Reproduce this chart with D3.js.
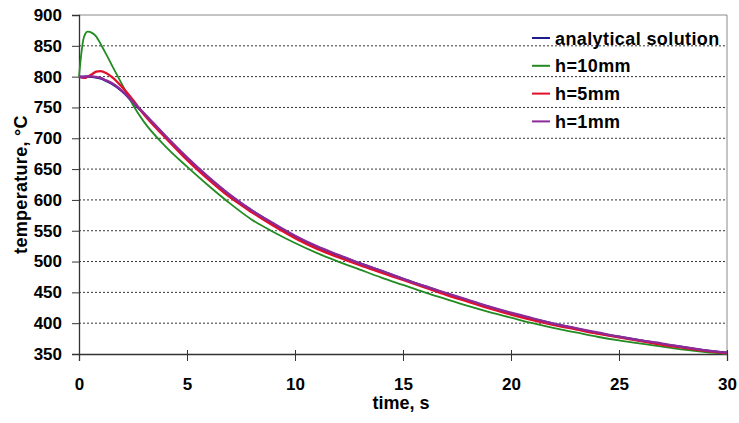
<!DOCTYPE html>
<html>
<head>
<meta charset="utf-8">
<script src="https://cdn.jsdelivr.net/npm/d3@7"></script>
<style>
  body { margin: 0; background: #fff; }
  svg { display: block; font-family: "Liberation Sans", Arial, sans-serif; }
</style>
</head>
<body>
<svg width="739" height="423"></svg>
<script>
// time points (s)
const times = [0, 0.1, 0.2, 0.3, 0.4, 0.6, 0.8, 1, 1.25, 1.5, 2, 2.5, 3,
  4, 5, 6, 7, 8, 9, 10, 11, 12, 13, 14, 15, 16, 17, 18, 19, 20,
  21, 22, 23, 24, 25, 26, 27, 28, 29, 30]

const analytical = [800, 800, 800, 800, 800, 799.5, 798.5, 797, 793, 789, 776, 758, 740,
  703, 668, 636, 607, 583, 561, 541, 524, 510, 497, 485, 472, 460, 448, 437, 426, 416,
  407, 399, 391, 384, 378, 372, 366, 361, 356, 352]

const h10 = [800, 835, 860, 870, 873, 871, 865, 853, 837, 820, 787, 754, 727,
  687, 654, 623, 594, 568, 548, 530, 514, 500, 487, 474, 462, 450, 439, 428, 418, 409,
  400, 392, 385, 378, 372, 367, 362, 357, 353, 350]

const h5 = [800, 799, 798, 798, 800, 804, 808, 809, 806, 800, 783, 762, 739,
  701, 665, 633, 604, 580, 558, 538, 521, 507, 494, 482, 470, 458, 446, 435, 424, 414,
  405, 397, 390, 383, 377, 371, 365, 360, 355, 351]

const h1 = [800, 799, 799, 800, 800.5, 800.5, 799.5, 798, 794, 790, 777, 759, 741,
  704, 669, 637, 608, 583, 562, 542, 525, 511, 497, 485, 472, 460, 449, 438, 427, 417,
  408, 399, 392, 385, 378, 372, 367, 361, 356, 352]

const seriesNames = ['analytical solution', 'h=10mm', 'h=5mm', 'h=1mm']
const seriesColors = ['#1c1c8c', '#228b22', '#e0102a', '#8e2a98']
const seriesValues = [analytical, h10, h5, h1]

const xTicks = [0, 5, 10, 15, 20, 25, 30]
const yTicks = [350, 400, 450, 500, 550, 600, 650, 700, 750, 800, 850, 900]

const svg = d3.select('svg')
const mLeft = 79, mRight = 727, mTop = 15, mBottom = 354

const x = d3.scaleLinear().domain([0, 30]).range([mLeft, mRight])
const y = d3.scaleLinear().domain([350, 900]).range([mBottom, mTop])

// dotted gridlines
svg.append('g').selectAll('line')
  .data(yTicks.slice(1, -1))
  .enter().append('line')
  .attr('x1', mLeft).attr('x2', mRight)
  .attr('y1', d => y(d)).attr('y2', d => y(d))
  .attr('stroke', '#333')
  .attr('stroke-width', 1)
  .attr('stroke-dasharray', '2,2')

// plot border, top and right
svg.append('path')
  .attr('d', `M${mLeft},${mTop}H${mRight}V${mBottom}`)
  .attr('fill', 'none')
  .attr('stroke', '#8a8a8a')
  .attr('stroke-width', 1)

const yAxis = d3.axisLeft(y).tickValues(yTicks).tickSize(7).tickPadding(10)
const yAxisGroup = svg.append('g')
  .attr('transform', `translate(${mLeft},0)`)
  .call(yAxis)

const xAxis = d3.axisBottom(x).tickValues(xTicks).tickSize(7).tickPadding(17)
const xAxisGroup = svg.append('g')
  .attr('transform', `translate(0,${mBottom})`)
  .call(xAxis)

xAxisGroup.selectAll('.tick line').attr('y1', -4)

svg.selectAll('.domain').attr('stroke', '#333').attr('stroke-width', 1.3)
svg.selectAll('.tick line').attr('stroke', '#333')
svg.selectAll('.tick text')
  .attr('fill', '#000')
  .style('font-size', '17px')
  .style('font-weight', 'bold')

// series lines
const line = d3.line()
  .x((d, i) => x(times[i]))
  .y(d => y(d))
  .curve(d3.curveMonotoneX)

seriesValues.forEach((vals, i) => {
  svg.append('path')
    .attr('fill', 'none')
    .attr('stroke', seriesColors[i])
    .attr('stroke-width', i === 1 ? 1.8 : 2.3)
    .attr('stroke-linejoin', 'round')
    .attr('d', line(vals))
})

// axis titles
svg.append('text')
  .attr('x', 401)
  .attr('y', 409)
  .attr('text-anchor', 'middle')
  .style('font-size', '18px')
  .style('font-weight', 'bold')
  .text('time, s')

svg.append('text')
  .attr('transform', `translate(27,${(mTop + mBottom) / 2}) rotate(-90)`)
  .attr('text-anchor', 'middle')
  .style('font-size', '18px')
  .style('font-weight', 'bold')
  .style('letter-spacing', '0.3px')
  .text('temperature, °C')

// legend
const legend = svg.append('g')
seriesNames.forEach((name, i) => {
  const ly = 38 + i * 27.8
  legend.append('line')
    .attr('x1', 532).attr('x2', 550)
    .attr('y1', ly).attr('y2', ly)
    .attr('stroke', seriesColors[i])
    .attr('stroke-width', 2)
  legend.append('text')
    .attr('x', 555)
    .attr('y', ly + 6.5)
    .style('font-size', '18px')
    .style('font-weight', 'bold')
    .style('letter-spacing', '0.4px')
    .text(name)
})
</script>
</body>
</html>
